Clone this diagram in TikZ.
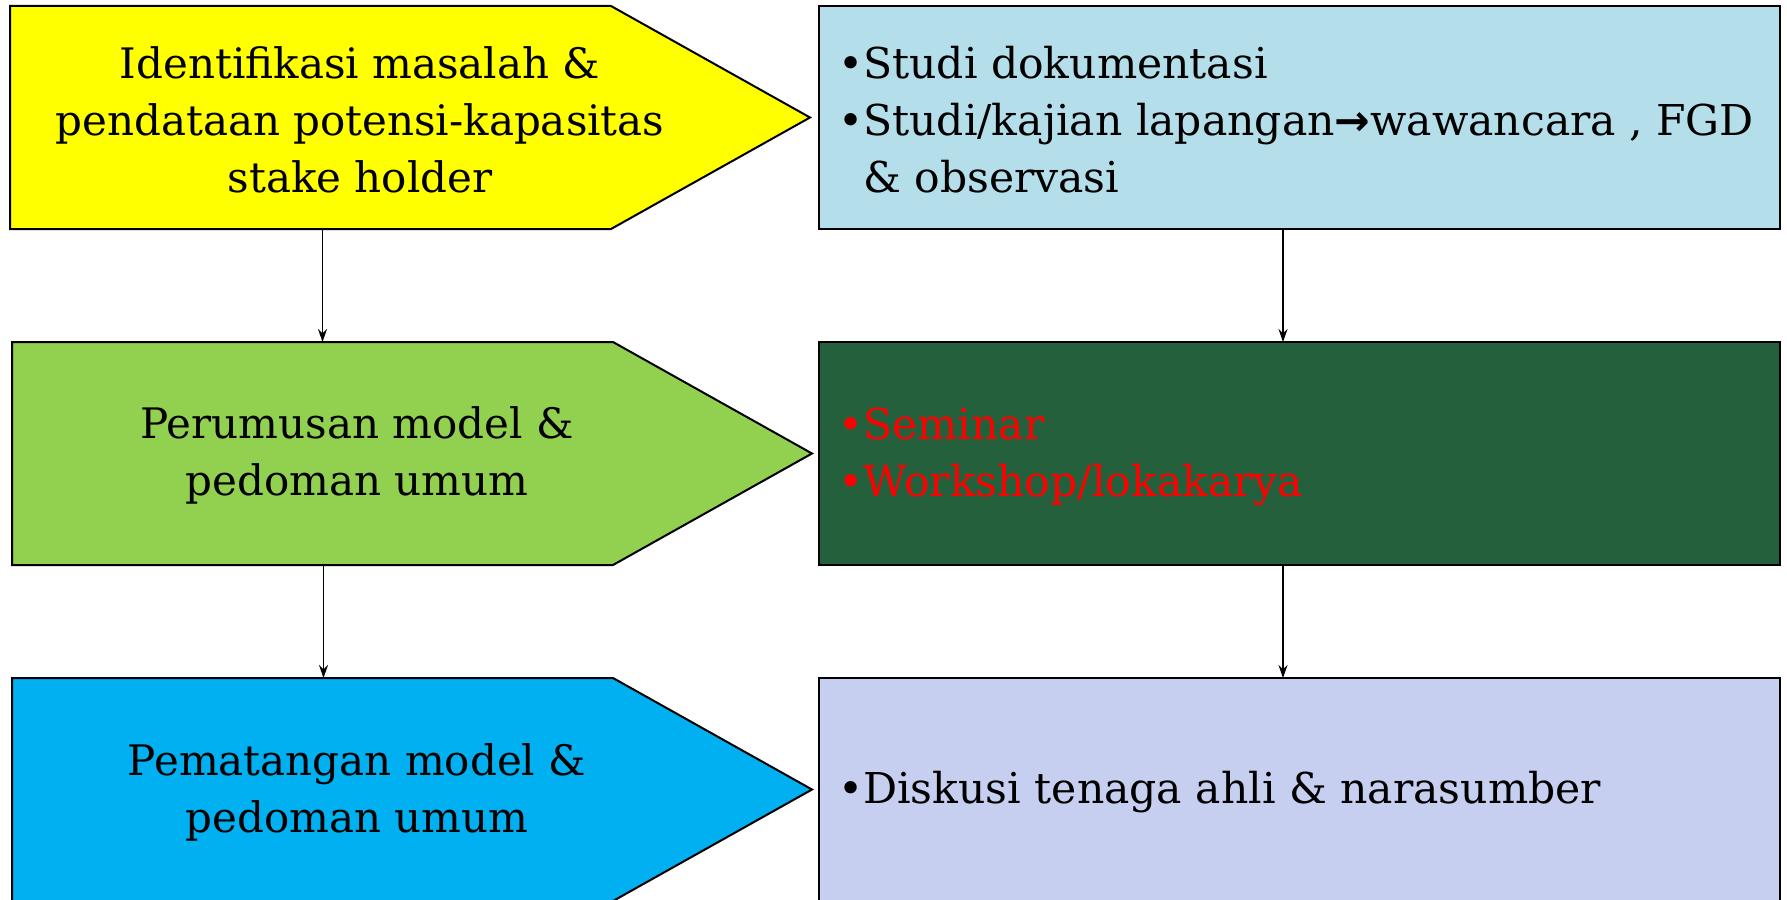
\documentclass[tikz,border=0pt]{standalone}
\usepackage{fontspec}
\setmainfont{DejaVu Serif}
\newfontfamily\arrowfont{DejaVu Sans}
\usetikzlibrary{arrows.meta,calc}
\definecolor{offyellow}{HTML}{FFFF00}
\definecolor{offgreen}{HTML}{92D050}
\definecolor{offblue}{HTML}{00B0F0}
\definecolor{watercyan}{HTML}{B4DFEA}
\definecolor{marblegreen}{HTML}{25603C}
\definecolor{papertint}{HTML}{C6CFF0}
\begin{document}
\begin{tikzpicture}[x=1pt,y=-1pt,
  pent/.style={draw=black, line width=2pt, line join=miter},
  frame/.style={minimum width=601pt, minimum height=223pt, anchor=north west, inner sep=0pt, outer sep=0pt},
  rbox/.style={draw=black, line width=2pt, minimum width=961pt, minimum height=223pt, anchor=north west, inner sep=0pt, outer sep=0pt},
  txt/.style={font=\fontsize{42}{57}\selectfont, align=center, inner sep=0pt},
  rtxt/.style={font=\fontsize{42.5}{57}\selectfont, align=left, anchor=west, inner sep=0pt},
  conn/.style={-{Stealth[length=13pt,width=9pt]}, line width=1.4pt}]
\useasboundingbox (0,0) rectangle (1787,899);
\fill[white] (0,0) rectangle (1787,899);

% left pentagons
\node[frame] (L1) at (10,6) {};
\draw[pent, fill=offyellow] (L1.north west) -- (L1.north east) -- ($(L1.east)+(199pt,0)$) -- (L1.south east) -- (L1.south west) -- cycle;
\node[frame] (L2) at (12,342) {};
\draw[pent, fill=offgreen] (L2.north west) -- (L2.north east) -- ($(L2.east)+(199pt,0)$) -- (L2.south east) -- (L2.south west) -- cycle;
\node[frame] (L3) at (12,678) {};
\draw[pent, fill=offblue] (L3.north west) -- (L3.north east) -- ($(L3.east)+(199pt,0)$) -- (L3.south east) -- (L3.south west) -- cycle;

\node[txt] (T1) at (360,120) {Identifikasi masalah \&\\pendataan potensi-kapasitas\\stake holder};
\node[txt] (T2) at (357,455) {Perumusan model \&\\pedoman umum};
\node[txt] (T3) at (357,792) {Pematangan model \&\\pedoman umum};

% right boxes
\node[rbox, fill=watercyan] (R1) at (819,6) {};
\node[rbox, fill=marblegreen] (R2) at (819,342) {};
\node[rbox, fill=papertint] (R3) at (819,678) {};

\node[rtxt] (RT1) at (838,120) {•Studi dokumentasi\\•Studi/kajian lapangan{\arrowfont\bfseries →}wawancara , FGD\\\phantom{•}\& observasi};
\node[rtxt, text=red] (RT2) at (838,457) {•Seminar\\•Workshop/lokakarya};
\node[rtxt] (RT3) at (838,792) {•Diskusi tenaga ahli \& narasumber};

% connectors
\draw[conn] ([xshift=12pt]L1.south) -- ([xshift=12pt]L1.south |- L2.north);
\draw[conn] ([xshift=11pt]L2.south) -- ([xshift=11pt]L2.south |- L3.north);
\draw[conn] ([xshift=-16.5pt]R1.south) -- ([xshift=-16.5pt]R2.north);
\draw[conn] ([xshift=-16.5pt]R2.south) -- ([xshift=-16.5pt]R3.north);
\end{tikzpicture}
\end{document}
